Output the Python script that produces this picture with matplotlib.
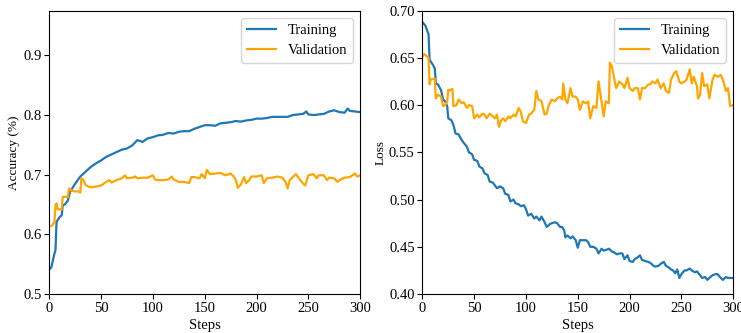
import matplotlib
matplotlib.use('Agg')
import matplotlib.pyplot as plt

plt.rcParams['font.family'] = ['Liberation Serif', 'DejaVu Serif']
plt.rcParams['font.size'] = 10.5
plt.rcParams['xtick.major.pad'] = 2
plt.rcParams['ytick.major.pad'] = 2

# accuracy - training
acc_train_steps = [0, 2, 5, 6, 7, 10, 12, 13, 15, 18, 20, 25, 30, 35, 40, 45, 50, 55, 60, 65,
                   70, 75, 80, 85, 90, 95, 100, 105, 110, 115, 120, 125, 130, 135, 140, 145, 150,
                   155, 160, 165, 170, 175, 180, 185, 190, 195, 200, 205, 210, 215, 220, 225, 230,
                   235, 240, 245, 248, 250, 255, 260, 265, 270, 275, 280, 285, 288, 290, 295, 300]
acc_train = [0.541, 0.545, 0.568, 0.574, 0.621, 0.629, 0.632, 0.649, 0.650, 0.657, 0.671, 0.685,
             0.697, 0.705, 0.713, 0.719, 0.724, 0.730, 0.734, 0.738, 0.742, 0.744, 0.749, 0.758,
             0.755, 0.761, 0.763, 0.766, 0.767, 0.770, 0.769, 0.772, 0.773, 0.773, 0.777, 0.780,
             0.783, 0.783, 0.782, 0.786, 0.787, 0.788, 0.790, 0.789, 0.791, 0.792, 0.794, 0.794,
             0.795, 0.797, 0.797, 0.797, 0.797, 0.800, 0.801, 0.802, 0.806, 0.801, 0.800, 0.801,
             0.802, 0.806, 0.808, 0.805, 0.804, 0.811, 0.807, 0.806, 0.805]

# accuracy - validation
acc_val_steps = [0, 3, 5, 6, 7, 8, 12, 13, 15, 18, 19, 22, 25, 28, 30, 31, 33, 35, 38, 40, 45,
                 50, 55, 58, 60, 65, 70, 73, 75, 80, 83, 85, 90, 95, 100, 102, 105, 110, 115, 118,
                 120, 125, 130, 135, 137, 140, 145, 147, 150, 152, 155, 160, 165, 170, 175, 178,
                 180, 182, 185, 188, 190, 193, 195, 200, 205, 207, 210, 215, 220, 225, 228, 230,
                 232, 235, 238, 240, 245, 247, 250, 255, 258, 260, 265, 268, 270, 275, 278, 280,
                 285, 290, 295, 297, 300]
acc_val = [0.613, 0.615, 0.621, 0.649, 0.652, 0.642, 0.642, 0.663, 0.663, 0.663, 0.677, 0.673,
           0.672, 0.672, 0.670, 0.694, 0.691, 0.683, 0.680, 0.679, 0.680, 0.682, 0.688, 0.691,
           0.687, 0.691, 0.694, 0.699, 0.694, 0.695, 0.697, 0.694, 0.695, 0.695, 0.699, 0.692,
           0.691, 0.691, 0.692, 0.697, 0.692, 0.688, 0.688, 0.686, 0.696, 0.696, 0.694, 0.701,
           0.694, 0.708, 0.701, 0.702, 0.703, 0.699, 0.702, 0.697, 0.691, 0.678, 0.684, 0.696,
           0.686, 0.691, 0.697, 0.697, 0.699, 0.686, 0.694, 0.695, 0.697, 0.695, 0.688, 0.677,
           0.691, 0.696, 0.701, 0.696, 0.685, 0.682, 0.699, 0.701, 0.694, 0.699, 0.699, 0.691,
           0.695, 0.694, 0.688, 0.691, 0.695, 0.696, 0.702, 0.697, 0.699]

# loss - training
loss_train_steps = [0, 3, 5, 6, 7, 10, 12, 13, 15, 18, 20, 22, 24, 25, 28, 30, 32, 35, 38, 40,
                    43, 45, 48, 50, 53, 55, 58, 60, 63, 65, 68, 70, 72, 75, 78, 80, 83, 85, 88,
                    90, 93, 95, 98, 100, 102, 105, 108, 110, 113, 115, 118, 120, 123, 125, 128,
                    130, 133, 135, 137, 138, 140, 143, 145, 148, 150, 152, 155, 158, 160, 162,
                    165, 168, 170, 173, 175, 178, 180, 183, 185, 188, 190, 193, 195, 198, 200,
                    203, 205, 208, 210, 212, 215, 218, 220, 223, 225, 228, 230, 233, 235, 238,
                    240, 242, 244, 246, 248, 250, 253, 255, 258, 260, 263, 265, 268, 270, 273,
                    275, 278, 280, 283, 285, 288, 290, 293, 295, 298, 300]
loss_train = [0.688, 0.684, 0.678, 0.675, 0.648, 0.643, 0.639, 0.623, 0.622, 0.616, 0.606, 0.604,
              0.599, 0.586, 0.584, 0.579, 0.570, 0.569, 0.563, 0.560, 0.556, 0.550, 0.548, 0.542,
              0.541, 0.535, 0.533, 0.528, 0.526, 0.519, 0.518, 0.515, 0.512, 0.514, 0.512, 0.506,
              0.505, 0.498, 0.500, 0.496, 0.495, 0.493, 0.494, 0.490, 0.483, 0.485, 0.480, 0.482,
              0.478, 0.482, 0.476, 0.471, 0.474, 0.475, 0.476, 0.475, 0.471, 0.471, 0.467, 0.460,
              0.462, 0.459, 0.461, 0.457, 0.449, 0.457, 0.457, 0.457, 0.455, 0.450, 0.450, 0.448,
              0.443, 0.448, 0.446, 0.447, 0.448, 0.445, 0.444, 0.442, 0.443, 0.443, 0.437, 0.441,
              0.435, 0.434, 0.437, 0.439, 0.441, 0.436, 0.435, 0.434, 0.433, 0.430, 0.429, 0.430,
              0.432, 0.434, 0.430, 0.428, 0.426, 0.425, 0.422, 0.426, 0.417, 0.421, 0.425, 0.425,
              0.427, 0.425, 0.423, 0.424, 0.420, 0.417, 0.418, 0.415, 0.418, 0.420, 0.421, 0.421,
              0.417, 0.415, 0.418, 0.417, 0.417, 0.417]

# loss - validation
loss_val_steps = [0, 2, 4, 6, 7, 8, 12, 13, 15, 18, 20, 22, 24, 25, 27, 29, 30, 33, 35, 38, 40,
                  43, 45, 48, 50, 53, 55, 58, 60, 62, 65, 68, 70, 72, 74, 76, 78, 80, 83, 85, 88,
                  90, 93, 95, 97, 100, 103, 105, 108, 110, 112, 115, 118, 120, 122, 125, 128, 130,
                  133, 135, 136, 138, 140, 143, 145, 148, 150, 152, 155, 158, 160, 162, 165, 168,
                  170, 172, 175, 177, 180, 181, 183, 185, 187, 190, 193, 195, 198, 200, 203, 205,
                  208, 210, 212, 215, 218, 220, 222, 225, 227, 230, 233, 235, 238, 240, 243, 245,
                  248, 250, 253, 255, 258, 260, 262, 265, 266, 268, 270, 272, 275, 277, 280, 282,
                  285, 288, 290, 293, 295, 297, 300]
loss_val = [0.651, 0.654, 0.652, 0.650, 0.622, 0.627, 0.628, 0.607, 0.611, 0.609, 0.599, 0.600,
            0.604, 0.616, 0.616, 0.617, 0.599, 0.600, 0.606, 0.602, 0.603, 0.597, 0.600, 0.599,
            0.586, 0.590, 0.587, 0.591, 0.590, 0.586, 0.591, 0.588, 0.586, 0.590, 0.577, 0.584,
            0.586, 0.583, 0.588, 0.586, 0.590, 0.588, 0.597, 0.593, 0.583, 0.581, 0.590, 0.591,
            0.595, 0.615, 0.606, 0.604, 0.590, 0.591, 0.600, 0.606, 0.604, 0.607, 0.609, 0.606,
            0.623, 0.606, 0.602, 0.618, 0.609, 0.609, 0.606, 0.595, 0.604, 0.602, 0.604, 0.586,
            0.599, 0.597, 0.625, 0.611, 0.588, 0.604, 0.602, 0.645, 0.641, 0.629, 0.618, 0.625,
            0.622, 0.618, 0.629, 0.618, 0.615, 0.618, 0.618, 0.606, 0.618, 0.618, 0.622, 0.622,
            0.625, 0.623, 0.627, 0.618, 0.623, 0.615, 0.613, 0.627, 0.634, 0.636, 0.625, 0.623,
            0.625, 0.627, 0.638, 0.623, 0.630, 0.620, 0.607, 0.611, 0.634, 0.620, 0.622, 0.607,
            0.627, 0.632, 0.630, 0.632, 0.627, 0.615, 0.618, 0.599, 0.600]

blue = '#1f77b4'
orange = '#ffa500'

fig, (ax1, ax2) = plt.subplots(1, 2, figsize=(7.41, 3.33), dpi=100)
fig.subplots_adjust(left=0.0665, right=0.9895, bottom=0.117, top=0.968, wspace=0.2)

ax1.plot(acc_train_steps, acc_train, color=blue, lw=1.6, label='Training')
ax1.plot(acc_val_steps, acc_val, color=orange, lw=1.6, label='Validation')
ax1.set_xlim(0, 300)
ax1.set_ylim(0.5, 0.975)
ax1.set_yticks([0.5, 0.6, 0.7, 0.8, 0.9])
ax1.set_xlabel('Steps', labelpad=3)
ax1.set_ylabel('Accuracy (%)', fontsize=9.5, labelpad=2)
ax1.legend(loc='upper right')

ax2.plot(loss_train_steps, loss_train, color=blue, lw=1.6, label='Training')
ax2.plot(loss_val_steps, loss_val, color=orange, lw=1.6, label='Validation')
ax2.set_xlim(0, 300)
ax2.set_ylim(0.40, 0.70)
ax2.set_xlabel('Steps', labelpad=3)
ax2.set_ylabel('Loss', fontsize=9.5, labelpad=2)
ax2.legend(loc='upper right')

fig.savefig('out.png', dpi=100)
